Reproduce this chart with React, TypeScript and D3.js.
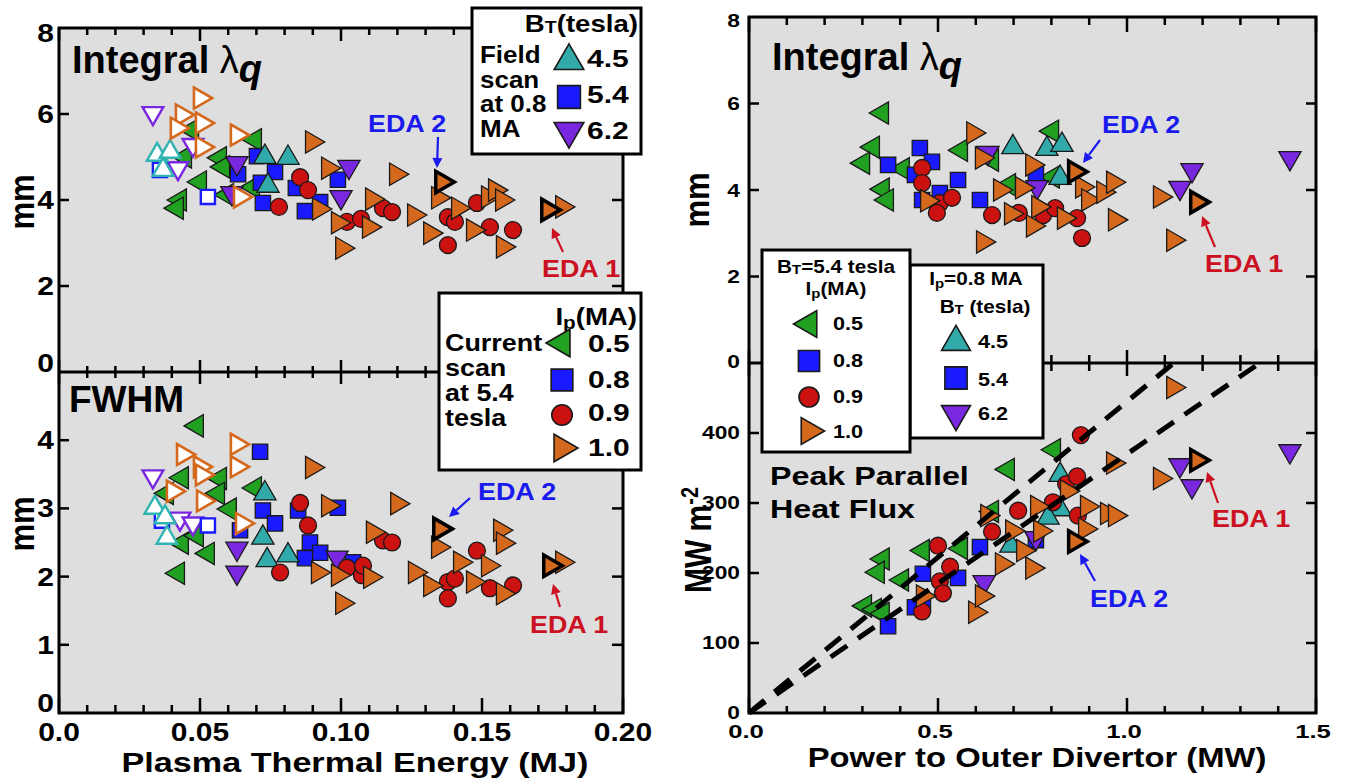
import React from 'react';
import * as d3 from 'd3';

type P = [number, number];

// ---------------- DATA ----------------
// Left panels: x = Plasma thermal energy (MJ)
// Top-left: integral lambda_q (mm)
const ltIp05: P[] = [[0.0447,5.00],[0.0472,5.63],[0.0500,4.42],[0.0429,4.00],[0.0418,3.81],[0.0571,4.98],[0.0582,4.77],[0.0596,4.12],[0.0695,5.40],[0.0688,4.30]];
const ltIp08: P[] = [[0.0635,4.60],[0.0702,5.02],[0.0723,3.93],[0.0716,4.40],[0.0766,4.65],[0.0840,4.28],[0.0872,3.74],[0.0926,3.95],[0.0989,4.47]];
const ltIp09: P[] = [[0.0855,4.53],[0.0883,4.23],[0.0780,3.84],[0.1021,3.49],[0.1071,3.56],[0.1149,3.81],[0.1181,3.72],[0.1482,3.93],[0.1379,3.60],[0.1404,3.49],[0.1379,2.95],[0.1528,3.37],[0.1610,3.30]];
const ltIp10: P[] = [[0.0897,5.35],[0.0954,4.74],[0.0922,3.79],[0.0989,3.47],[0.1004,2.88],[0.1110,4.02],[0.1099,3.37],[0.1195,4.60],[0.1259,3.65],[0.1316,3.23],[0.1344,4.05],[0.1415,3.81],[0.1521,4.07],[0.1546,4.23],[0.1571,4.00],[0.1468,3.30],[0.1574,2.91],[0.1784,3.84]];
const ltBt45: P[] = [[0.0730,5.00],[0.0812,4.98],[0.0741,4.33]];
const ltBt62: P[] = [[0.0631,4.86],[0.1028,4.77],[0.1000,4.07],[0.0613,4.16]];
const ltEda: P[] = [[0.1358,4.42],[0.1734,3.77]];
const ltOpenBt62: P[] = [[0.0333,6.02],[0.0475,5.28],[0.0422,4.74]];
const ltOpenBt45: P[] = [[0.0348,5.05],[0.0394,5.12],[0.0369,4.70]];
const ltOpenIp08: P[] = [[0.0358,4.70],[0.0528,4.07]];
const ltOpenIp10: P[] = [[0.0500,6.37],[0.0436,5.98],[0.0418,5.67],[0.0507,5.79],[0.0507,5.23],[0.0631,5.51],[0.0642,4.07]];

// Bottom-left: FWHM (mm)
const lbIp05: P[] = [[0.0489,4.21],[0.0436,3.45],[0.0383,3.22],[0.0571,3.44],[0.0564,3.22],[0.0606,2.99],[0.0695,3.30],[0.0436,2.49],[0.0489,2.60],[0.0528,2.34],[0.0422,2.05]];
const lbIp08: P[] = [[0.0713,3.83],[0.0723,2.97],[0.0766,2.78],[0.0848,2.97],[0.0642,2.68],[0.0890,2.50],[0.0926,2.35],[0.0872,2.27],[0.0989,3.01],[0.1043,2.21]];
const lbIp09: P[] = [[0.0855,3.08],[0.0883,2.75],[0.0784,2.06],[0.1021,2.13],[0.1074,2.02],[0.1078,2.16],[0.1149,2.53],[0.1181,2.50],[0.1482,2.38],[0.1379,1.92],[0.1404,1.97],[0.1379,1.68],[0.1528,1.83],[0.1610,1.87]];
const lbIp10: P[] = [[0.0897,3.60],[0.0954,3.04],[0.0918,2.06],[0.0989,2.02],[0.1004,1.61],[0.1113,2.65],[0.1103,1.99],[0.1199,3.07],[0.1262,2.06],[0.1316,1.87],[0.1344,2.43],[0.1422,2.21],[0.1521,2.16],[0.1564,2.68],[0.1574,2.49],[0.1468,1.92],[0.1574,1.75],[0.1784,2.21]];
const lbBt45: P[] = [[0.0730,3.22],[0.0723,2.57],[0.0738,2.24],[0.0812,2.31]];
const lbBt62: P[] = [[0.0631,2.41],[0.0631,2.06],[0.0986,2.28]];
const lbEda: P[] = [[0.1351,2.70],[0.1741,2.16]];
const lbOpenBt62: P[] = [[0.0333,3.47],[0.0429,2.85],[0.0475,2.78]];
const lbOpenBt45: P[] = [[0.0340,3.01],[0.0376,2.87],[0.0383,2.57]];
const lbOpenIp08: P[] = [[0.0365,2.82],[0.0528,2.75]];
const lbOpenIp10: P[] = [[0.0440,3.79],[0.0500,3.61],[0.0507,3.49],[0.0404,3.25],[0.0511,3.11],[0.0631,3.94],[0.0631,3.61],[0.0649,2.78]];

// Right panels: x = Power to outer divertor (MW)
const rtIp05: P[] = [[0.352,5.78],[0.328,4.99],[0.302,4.62],[0.354,4.02],[0.365,3.77],[0.407,4.49],[0.561,4.92],[0.643,4.69],[0.688,4.12],[0.802,5.36],[0.804,4.30]];
const rtIp08: P[] = [[0.368,4.58],[0.452,4.97],[0.484,4.65],[0.439,4.35],[0.505,3.93],[0.553,4.23],[0.611,3.77],[0.759,4.37],[0.458,3.77]];
const rtIp09: P[] = [[0.458,4.51],[0.458,4.16],[0.505,3.70],[0.537,3.82],[0.497,3.47],[0.643,3.42],[0.714,3.47],[0.778,3.42],[0.810,3.58],[0.868,3.35],[0.881,2.89]];
const rtIp10: P[] = [[0.471,3.75],[0.593,5.32],[0.616,4.74],[0.664,4.00],[0.722,4.05],[0.693,3.45],[0.749,4.58],[0.765,3.61],[0.751,3.17],[0.833,3.35],[0.619,2.80],[0.881,4.07],[0.897,3.77],[0.937,3.95],[0.963,4.18],[0.968,3.31],[1.087,3.84],[1.122,2.84]];
const rtBt45: P[] = [[0.698,4.99],[0.788,4.95],[0.828,5.04],[0.823,4.28]];
const rtBt62: P[] = [[0.632,4.86],[0.762,4.07],[1.172,4.46],[1.140,4.05],[1.431,4.74]];
const rtEda: P[] = [[0.862,4.42],[1.185,3.72]];

const rbIp05: P[] = [[0.354,220],[0.341,201],[0.405,190],[0.307,153],[0.333,148],[0.354,142],[0.460,232],[0.561,235],[0.643,288],[0.685,348],[0.807,376]];
const rbIp08: P[] = [[0.368,124],[0.460,199],[0.460,155],[0.439,151],[0.553,193],[0.611,237],[0.759,247]];
const rbIp09: P[] = [[0.500,239],[0.532,209],[0.505,188],[0.513,171],[0.458,145],[0.643,259],[0.712,289],[0.804,301],[0.839,327],[0.868,338],[0.878,397],[0.870,282]];
const rbIp10: P[] = [[0.460,167],[0.598,144],[0.616,167],[0.669,213],[0.630,282],[0.696,260],[0.762,295],[0.770,260],[0.725,232],[0.749,207],[0.841,317],[0.894,295],[0.947,285],[0.968,282],[0.889,263],[0.963,357],[1.087,335],[1.122,465]];
const rbBt45: P[] = [[0.823,340],[0.823,291],[0.791,279],[0.693,239]];
const rbBt62: P[] = [[0.622,187],[0.759,250],[1.140,354],[1.172,324],[1.431,374]];
const rbEda: P[] = [[0.862,245],[1.185,361]];
const fitSlopes: number[] = [445, 370]; // MW m^-2 per MW

// ticks
const lxTicks = [0, 0.05, 0.10, 0.15, 0.20];
const lxLabels = ['0.0', '0.05', '0.10', '0.15', '0.20'];
const ltYTicks = [0, 2, 4, 6, 8];
const lbYTicks = [0, 1, 2, 3, 4];
const rxTicks = [0, 0.5, 1.0, 1.5];
const rxLabels = ['0.0', '0.5', '1.0', '1.5'];
const rtYTicks = [0, 2, 4, 6, 8];
const rbYTicks = [0, 100, 200, 300, 400];

const ipValues = ['0.5', '0.8', '0.9', '1.0'];
const btValues = ['4.5', '5.4', '6.2'];

// ---------------- STYLE ----------------
const C = { green: '#22a022', blue: '#1a1aff', red: '#cc1111', orange: '#d4691e', teal: '#33aaaa', purple: '#7a28e0' };
const FA = "'Liberation Sans', Arial, Helvetica, sans-serif";
const BG = '#dedede';
const BLUE_T = '#1a1aee';
const RED_T = '#cc1122';

// scales
const xL = d3.scaleLinear().domain([0, 0.2]).range([59, 623]);
const yLT = d3.scaleLinear().domain([0, 8]).range([372, 28]);
const yLB = d3.scaleLinear().domain([0, 5]).range([713, 372]);
const xR = d3.scaleLinear().domain([0, 1.5]).range([749, 1316]);
const yRT = d3.scaleLinear().domain([0, 8]).range([363, 17]);
const yRB = d3.scaleLinear().domain([0, 500]).range([713, 363]);

const SHAPES: Record<string, [d3.SymbolType, number]> = {
  up: [d3.symbolTriangle, 0], right: [d3.symbolTriangle, 90], down: [d3.symbolTriangle, 180], left: [d3.symbolTriangle, 270],
  square: [d3.symbolSquare, 0], circle: [d3.symbolCircle, 0],
};
const SIZES: Record<string, number> = { up: 215, right: 215, down: 215, left: 215, square: 235, circle: 225 };

function symPath(shape: string, size?: number) {
  const [t] = SHAPES[shape];
  return d3.symbol().type(t).size(size ?? SIZES[shape])() as string;
}

type Series = { data: P[]; shape: string; fill: string; stroke?: string; sw?: number; size?: number };

function Marks({ s, sx, sy }: { s: Series; sx: any; sy: any }) {
  const d = symPath(s.shape, s.size);
  const rot = SHAPES[s.shape][1];
  return (
    <g>
      {s.data.map(([x, y], i) => (
        <path key={i} d={d} transform={`translate(${sx(x)},${sy(y)}) rotate(${rot})`} fill={s.fill}
          stroke={s.stroke ?? '#1a1a1a'} strokeWidth={s.sw ?? 1.3} strokeLinejoin="miter" />
      ))}
    </g>
  );
}

function Sym({ shape, x, y, fill, size }: { shape: string; x: number; y: number; fill: string; size: number }) {
  return <path d={symPath(shape, size)} transform={`translate(${x},${y}) rotate(${SHAPES[shape][1]})`} fill={fill} stroke="#1a1a1a" strokeWidth={1.6} />;
}

// horizontally-stretched bold text (the reference type is a widened Helvetica)
function T({ x, y, s, k = 1.2, anchor = 'start', fill = '#000', dy, children }: any) {
  return (
    <text transform={`translate(${x},${y}) scale(${k},1)`} fontSize={s} textAnchor={anchor} fill={fill} dy={dy}
      fontFamily={FA} fontWeight="bold">{children}</text>
  );
}

function filled(g: P[], b: P[], r: P[], o: P[], t: P[], p: P[], eda: P[]): Series[] {
  return [
    { data: g, shape: 'left', fill: C.green },
    { data: b, shape: 'square', fill: C.blue },
    { data: t, shape: 'up', fill: C.teal },
    { data: p, shape: 'down', fill: C.purple },
    { data: r, shape: 'circle', fill: C.red },
    { data: o, shape: 'right', fill: C.orange },
    { data: eda, shape: 'right', fill: C.orange, stroke: '#000', sw: 3.5, size: 200 },
  ];
}
function openS(p: P[], t: P[], b: P[], o: P[]): Series[] {
  return [
    { data: p, shape: 'down', fill: '#fff', stroke: C.purple, sw: 2.4, size: 185 },
    { data: b, shape: 'square', fill: '#fff', stroke: C.blue, sw: 2.4, size: 200 },
    { data: t, shape: 'up', fill: '#fff', stroke: '#2fb3b3', sw: 2.4, size: 185 },
    { data: o, shape: 'right', fill: '#fff', stroke: C.orange, sw: 2.6, size: 190 },
  ];
}

function Arrow({ x1, y1, x2, y2, color }: { x1: number; y1: number; x2: number; y2: number; color: string }) {
  const a = Math.atan2(y2 - y1, x2 - x1);
  const L = 10, w = 5;
  const bx = x2 - L * Math.cos(a), by = y2 - L * Math.sin(a);
  const px = -Math.sin(a) * w, py = Math.cos(a) * w;
  return (
    <g>
      <line x1={x1} y1={y1} x2={bx} y2={by} stroke={color} strokeWidth={2.2} />
      <path d={`M${x2},${y2}L${bx + px},${by + py}L${bx - px},${by - py}Z`} fill={color} />
    </g>
  );
}

function vline(x: number, y1: number, y2: number, k: string) {
  return <line key={k} x1={x} x2={x} y1={y1} y2={y2} stroke="#000" strokeWidth={2.5} />;
}
function hline(y: number, x1: number, x2: number, k: string) {
  return <line key={k} x1={x1} x2={x2} y1={y} y2={y} stroke="#000" strokeWidth={2.5} />;
}

export default function App() {
  const lMinor = d3.range(1, 20).filter(i => i % 5 !== 0).map(i => i * 0.01);
  const rMinor = d3.range(1, 15).filter(i => i % 5 !== 0).map(i => i * 0.1);
  const L = { x0: 59, x1: 623, top: 28, mid: 372, bot: 713 };
  const R = { x0: 749, x1: 1316, top: 17, mid: 363, bot: 713 };

  const ticks: JSX.Element[] = [];
  lxTicks.forEach((v, i) => {
    const x = xL(v);
    ticks.push(vline(x, L.top, L.top + 13, 'lt' + i));
    ticks.push(vline(x, L.mid - 12, L.mid + 12, 'lm' + i));
    ticks.push(vline(x, L.bot - 15, L.bot, 'lb' + i));
  });
  lMinor.forEach((v, i) => {
    const x = xL(v);
    ticks.push(vline(x, L.top, L.top + 7, 'ltm' + i));
    ticks.push(vline(x, L.mid - 6, L.mid + 6, 'lmm' + i));
    ticks.push(vline(x, L.bot - 8, L.bot, 'lbm' + i));
  });
  ltYTicks.slice(1, -1).forEach((v, i) => {
    ticks.push(hline(yLT(v), L.x0, L.x0 + 10, 'lty' + i));
    ticks.push(hline(yLT(v), L.x1 - 11, L.x1, 'ltyr' + i));
  });
  lbYTicks.slice(1).forEach((v, i) => {
    ticks.push(hline(yLB(v), L.x0, L.x0 + 10, 'lby' + i));
    ticks.push(hline(yLB(v), L.x1 - 11, L.x1, 'lbyr' + i));
  });
  rxTicks.forEach((v, i) => {
    const x = xR(v);
    ticks.push(vline(x, R.top, R.top + 15, 'rt' + i));
    ticks.push(vline(x, R.mid - 13, R.mid + 13, 'rm' + i));
    ticks.push(vline(x, R.bot - 15, R.bot, 'rb' + i));
  });
  rMinor.forEach((v, i) => {
    const x = xR(v);
    ticks.push(vline(x, R.top, R.top + 8, 'rtm' + i));
    ticks.push(vline(x, R.mid - 8, R.mid + 8, 'rmm' + i));
    ticks.push(vline(x, R.bot - 7, R.bot, 'rbm' + i));
  });
  rtYTicks.slice(1, -1).forEach((v, i) => {
    ticks.push(hline(yRT(v), R.x0, R.x0 + 10, 'rty' + i));
    ticks.push(hline(yRT(v), R.x1 - 10, R.x1, 'rtyr' + i));
  });
  rbYTicks.slice(1).forEach((v, i) => {
    ticks.push(hline(yRB(v), R.x0, R.x0 + 10, 'rby' + i));
    ticks.push(hline(yRB(v), R.x1 - 10, R.x1, 'rbyr' + i));
  });

  const clamp = (v: number, a: number, b: number) => Math.max(a, Math.min(b, v));

  const lt = filled(ltIp05, ltIp08, ltIp09, ltIp10, ltBt45, ltBt62, ltEda);
  const lb = filled(lbIp05, lbIp08, lbIp09, lbIp10, lbBt45, lbBt62, lbEda);
  const rt = filled(rtIp05, rtIp08, rtIp09, rtIp10, rtBt45, rtBt62, rtEda);
  const rb = filled(rbIp05, rbIp08, rbIp09, rbIp10, rbBt45, rbBt62, rbEda);
  const lto = openS(ltOpenBt62, ltOpenBt45, ltOpenIp08, ltOpenIp10);
  const lbo = openS(lbOpenBt62, lbOpenBt45, lbOpenIp08, lbOpenIp10);

  const fitLines = fitSlopes.map(k => {
    const xEnd = Math.min(1.5, 500 / k);
    return d3.line<P>().x(d => xR(d[0])).y(d => yRB(d[1]))([[0, 0], [xEnd, k * xEnd]]) as string;
  });

  const ipShapes: [string, string, number][] = [['left', C.green, 330], ['square', C.blue, 470], ['circle', C.red, 330], ['right', C.orange, 330]];
  const btShapes: [string, string, number][] = [['up', C.teal, 380], ['square', C.blue, 520], ['down', C.purple, 380]];

  return (
    <svg width={1351} height={782} style={{ position: 'absolute', left: 0, top: 0, background: '#fff' }}>
      <rect x={L.x0} y={L.top} width={L.x1 - L.x0} height={L.bot - L.top} fill={BG} />
      <rect x={R.x0} y={R.top} width={R.x1 - R.x0} height={R.bot - R.top} fill={BG} />
      {ticks}
      {[...lt, ...lto].map((s, i) => <Marks key={'lt' + i} s={s} sx={xL} sy={yLT} />)}
      {[...lb, ...lbo].map((s, i) => <Marks key={'lb' + i} s={s} sx={xL} sy={yLB} />)}
      {rt.map((s, i) => <Marks key={'rt' + i} s={s} sx={xR} sy={yRT} />)}
      {rb.map((s, i) => <Marks key={'rb' + i} s={s} sx={xR} sy={yRB} />)}
      {fitLines.map((d, i) => <path key={'f' + i} d={d} fill="none" stroke="#000" strokeWidth={5} strokeDasharray="20 13" />)}
      <rect x={L.x0} y={L.top} width={L.x1 - L.x0} height={L.bot - L.top} fill="none" stroke="#000" strokeWidth={3} />
      <line x1={L.x0} x2={L.x1} y1={L.mid} y2={L.mid} stroke="#000" strokeWidth={3} />
      <rect x={R.x0} y={R.top} width={R.x1 - R.x0} height={R.bot - R.top} fill="none" stroke="#000" strokeWidth={3} />
      <line x1={R.x0} x2={R.x1} y1={R.mid} y2={R.mid} stroke="#000" strokeWidth={3} />

      {/* tick labels */}
      {lxTicks.map((v, i) => <T key={'lxl' + i} x={xL(v)} y={741} s={25} k={1.2} anchor="middle">{lxLabels[i]}</T>)}
      {ltYTicks.map((v, i) => <T key={'ltl' + i} x={54} y={clamp(yLT(v), L.top + 5, L.mid - 9)} dy="0.36em" s={25} anchor="end">{v}</T>)}
      {lbYTicks.map((v, i) => <T key={'lbl' + i} x={54} y={clamp(yLB(v), L.mid, L.bot - 10)} dy="0.36em" s={25} anchor="end">{v}</T>)}
      {rxTicks.map((v, i) => <T key={'rxl' + i} x={xR(v) - 3} y={738} s={19} k={1.35} anchor="middle">{rxLabels[i]}</T>)}
      {rtYTicks.map((v, i) => <T key={'rtl' + i} x={740} y={clamp(yRT(v), R.top + 3, R.mid - 2)} dy="0.36em" s={19} k={1.2} anchor="end">{v}</T>)}
      {rbYTicks.map((v, i) => <T key={'rbl' + i} x={740} y={yRB(v) - 1} dy="0.36em" s={19} k={1.2} anchor="end">{v}</T>)}

      {/* axis titles */}
      <T x={355} y={772} s={28} k={1.22} anchor="middle">Plasma Thermal Energy (MJ)</T>
      <T x={1037} y={767} s={28} k={1.17} anchor="middle">Power to Outer Divertor (MW)</T>
      <g fontFamily={FA} fontWeight="bold" fill="#000">
        <text transform="translate(711,540) rotate(-90) scale(1,1.2)" fontSize={30} textAnchor="middle">MW m<tspan fontSize={20} dy={-11}>-2</tspan></text>
        <text transform="translate(34,202) rotate(-90) scale(1,1.15)" fontSize={31} textAnchor="middle">mm</text>
        <text transform="translate(34,524) rotate(-90) scale(1,1.15)" fontSize={31} textAnchor="middle">mm</text>
        <text transform="translate(709,200) rotate(-90) scale(1,1.15)" fontSize={31} textAnchor="middle">mm</text>
        <text x={72} y={73} fontSize={38}>Integral <tspan fontWeight="normal">λ</tspan><tspan fontStyle="italic" dy={9}>q</tspan></text>
        <text x={772} y={70} fontSize={38}>Integral <tspan fontWeight="normal">λ</tspan><tspan fontStyle="italic" dy={9}>q</tspan></text>
        <text x={69} y={412} fontSize={37}>FWHM</text>
      </g>
      <T x={770} y={485} s={26} k={1.24}>Peak Parallel</T>
      <T x={770} y={518} s={26} k={1.24}>Heat Flux</T>

      {/* EDA annotations */}
      <T x={368} y={132} s={24} k={1.12} fill={BLUE_T}>EDA 2</T>
      <Arrow x1={438} y1={137} x2={437} y2={168} color={BLUE_T} />
      <T x={542} y={277} s={24} k={1.12} fill={RED_T}>EDA 1</T>
      <Arrow x1={563} y1={252} x2={552} y2={228} color={RED_T} />
      <T x={478} y={500} s={24} k={1.12} fill={BLUE_T}>EDA 2</T>
      <Arrow x1={470} y1={498} x2={449} y2={517} color={BLUE_T} />
      <T x={530} y={633} s={24} k={1.12} fill={RED_T}>EDA 1</T>
      <Arrow x1={560} y1={607} x2={553} y2={584} color={RED_T} />
      <T x={1102} y={133} s={24} k={1.12} fill={BLUE_T}>EDA 2</T>
      <Arrow x1={1100} y1={140} x2={1083} y2={163} color={BLUE_T} />
      <T x={1205} y={272} s={24} k={1.12} fill={RED_T}>EDA 1</T>
      <Arrow x1={1215} y1={247} x2={1202} y2={216} color={RED_T} />
      <T x={1212} y={527} s={24} k={1.12} fill={RED_T}>EDA 1</T>
      <Arrow x1={1218} y1={503} x2={1207} y2={472} color={RED_T} />
      <T x={1090} y={607} s={24} k={1.12} fill={BLUE_T}>EDA 2</T>
      <Arrow x1={1095} y1={581} x2={1080} y2={554} color={BLUE_T} />

      {/* Left-top legend: field scan */}
      <rect x={472} y={8} width={169} height={146} fill="#fff" stroke="#000" strokeWidth={3} />
      <T x={638} y={32} s={24} k={1.15} anchor="end">B<tspan fontSize={17} dy={1}>T</tspan><tspan dy={-1}>(tesla)</tspan></T>
      {['Field', 'scan', 'at 0.8', 'MA'].map((t, i) => <T key={t} x={480} y={63 + i * 24.5} s={23} k={1.13}>{t}</T>)}
      {btShapes.map(([s, c, sz], i) => <Sym key={s + i} shape={s} x={569} y={[61, 97, 131][i]} fill={c} size={sz} />)}
      {btValues.map((t, i) => <T key={t} x={587} y={[67, 103, 139][i]} s={24} k={1.25}>{t}</T>)}

      {/* Left-bottom legend: current scan */}
      <rect x={439} y={293} width={202} height={177} fill="#fff" stroke="#000" strokeWidth={3} />
      <T x={637} y={325} s={24} k={1.15} anchor="end">I<tspan fontSize={18} dy={4}>p</tspan><tspan dy={-4}>(MA)</tspan></T>
      {['Current', 'scan', 'at 5.4', 'tesla'].map((t, i) => <T key={t} x={445} y={351 + i * 25} s={23} k={1.17}>{t}</T>)}
      {ipShapes.map(([s, c, sz], i) => <Sym key={s + i} shape={s} x={562} y={[343, 380, 415, 448][i]} fill={c} size={sz} />)}
      {ipValues.map((t, i) => <T key={t} x={588} y={[352, 388, 421, 456][i]} s={24} k={1.25}>{t}</T>)}

      {/* Right legends */}
      <rect x={910} y={265} width={133} height={173} fill="#fff" stroke="#000" strokeWidth={3} />
      <T x={976} y={285} s={18} k={1.15} anchor="middle">I<tspan fontSize={13} dy={3}>p</tspan><tspan dy={-3}>=0.8 MA</tspan></T>
      <T x={985} y={313} s={18} k={1.15} anchor="middle">B<tspan fontSize={13} dy={1}>T</tspan><tspan dy={-1}> (tesla)</tspan></T>
      {btShapes.map(([s, c, sz], i) => <Sym key={s + i} shape={s} x={956} y={[342, 378, 414][i]} fill={c} size={sz * 0.95} />)}
      {btValues.map((t, i) => <T key={t} x={978} y={[348, 386, 420][i]} s={18} k={1.2}>{t}</T>)}

      <rect x={762} y={250} width={148} height={202} fill="#fff" stroke="#000" strokeWidth={3} />
      <T x={836} y={273} s={18} k={1.15} anchor="middle">B<tspan fontSize={13} dy={1}>T</tspan><tspan dy={-1}>=5.4 tesla</tspan></T>
      <T x={836} y={295} s={18} k={1.15} anchor="middle">I<tspan fontSize={13} dy={3}>p</tspan><tspan dy={-3}>(MA)</tspan></T>
      {ipShapes.map(([s, c, sz], i) => <Sym key={s + i} shape={s} x={809} y={[324, 361, 397, 431][i]} fill={c} size={sz * 0.95} />)}
      {ipValues.map((t, i) => <T key={t} x={833} y={[330, 367, 403, 438][i]} s={18} k={1.2}>{t}</T>)}
    </svg>
  );
}
